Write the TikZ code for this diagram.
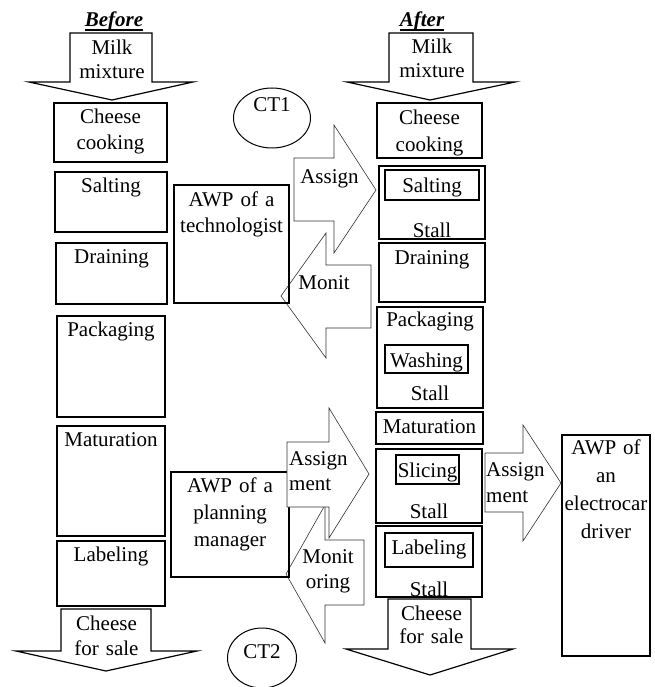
\documentclass[tikz,border=0pt]{standalone}
\usepackage{fontspec}
\setmainfont{Liberation Serif}
\usetikzlibrary{positioning, fit, shapes.geometric}

\tikzset{
  box/.style={draw, line width=1.5pt, inner sep=0pt},
  txt/.style={inner sep=0pt, align=center, text width=130pt, font=\fontsize{21}{26}\selectfont},
  head/.style={inner sep=0pt, anchor=base, font=\fontsize{21}{26}\selectfont\bfseries\itshape},
  flow/.style={draw, fill=white, line width=1.2pt},
  link/.style={draw=black!80, fill=white, line width=0.6pt},
  ct/.style={draw, ellipse, line width=1pt, inner sep=0pt}
}

\begin{document}
\begin{tikzpicture}[x=1pt, y=-1pt]
\useasboundingbox (0,0) rectangle (654,687);

% Headings
\node[head] (before) at (114,27) {Before};
\draw[line width=1.2pt] ([yshift=-3pt]before.base west) -- ([yshift=-3pt]before.base east);
\node[head] (after) at (422,27) {After};
\draw[line width=1.2pt] ([yshift=-3pt]after.base west) -- ([yshift=-3pt]after.base east);

% Monitoring arrows
\draw[link] (371,265) -- (326,265) -- (326,233) -- (281,296) -- (326,358) -- (326,328) -- (371,328) -- cycle;
\node[txt, anchor=base] (monit1) at (324,289) {Monit};
\draw[link] (364,540) -- (325,540) -- (325,505) -- (286,574) -- (325,643) -- (325,605) -- (364,605) -- cycle;
\node[txt, anchor=base, font=\fontsize{21}{25}\selectfont] (monit2) at (328,563) {Monit\\oring};

% Before: stages
\foreach \n/\t/\xa/\xb/\ya/\yb in {cookL/{Cheese\\cooking}/54/167/103/162, saltL/Salting/55/167/172/232,
    drainL/Draining/56/167/243/304, packL/Packaging/57/165/316/417, matL/Maturation/57/165/426/536,
    labL/Labeling/57/165/541/606}
{
  \node[box, fit={(\xa,\ya) (\xb,\yb)}] (\n) {};
  \node[txt, anchor=base] (\n-t) at ([yshift=-21.5pt]\n.north) {\t};
}

% Workplaces
\node[box, fit={(174,185) (289,303)}] (awpTech) {};
\node[txt, anchor=base] (awpTech-t) at ([yshift=-22pt]awpTech.north) {AWP of a\\technologist};
\node[box, fit={(171,472) (289,577)}] (awpPlan) {};
\node[txt, anchor=base, font=\fontsize{21}{27}\selectfont] (awpPlan-t) at ([yshift=-21pt]awpPlan.north) {AWP of a\\planning\\manager};
\node[box, fit={(562,435) (650,656)}] (awpCar) {};
\node[txt, anchor=base, font=\fontsize{21}{28}\selectfont] (awpCar-t) at ([yshift=-20pt]awpCar.north) {AWP of\\an\\electrocar\\driver};

% Control points
\node[ct, minimum width=77pt, minimum height=60pt] (ct1) at (272,118) {};
\node[txt, anchor=base] (ct1-t) at ([yshift=6pt]ct1.center) {CT1};
\node[ct, minimum width=69pt, minimum height=60pt] (ct2) at (262,658) {};
\node[txt, anchor=base] (ct2-t) at (ct2.center) {CT2};

% After: stages
\node[box, fit={(377,103) (482,158)}] (cookR) {};
\node[txt, anchor=base, font=\fontsize{21}{27}\selectfont] (cookR-t) at ([yshift=-22pt]cookR.north) {Cheese\\cooking};
\node[box, fit={(379,166) (485,239)}] (saltR) {};
\node[box, fit={(385,170) (479,200)}] (saltIn) {};
\node[txt, anchor=base] (saltIn-t) at ([yshift=-7pt]saltIn.center) {Salting};
\node[txt, anchor=base] (saltR-s) at ([yshift=2.5pt]saltR.south) {Stall};
\node[box, fit={(379,243) (485,302)}] (drainR) {};
\node[txt, anchor=base] (drainR-t) at ([yshift=-22pt]drainR.north) {Draining};
\node[box, fit={(377,307) (483,408)}] (packR) {};
\node[txt, anchor=base] (packR-t) at ([yshift=-20pt]packR.north) {Packaging};
\node[box, fit={(385,345) (468,373)}] (washIn) {};
\node[txt, anchor=base] (washIn-t) at ([yshift=-8pt]washIn.center) {Washing};
\node[txt, anchor=base] (packR-s) at ([yshift=8pt]packR.south) {Stall};
\node[box, fit={(376,412) (483,444)}] (matR) {};
\node[txt, anchor=base] (matR-t) at ([yshift=-5pt]matR.center) {Maturation};
\node[box, fit={(376,449) (482,523)}] (sliceR) {};
\node[box, fit={(396,455) (459,484)}] (sliceIn) {};
\node[txt, anchor=base] (sliceIn-t) at ([yshift=-7.5pt]sliceIn.center) {Slicing};
\node[txt, anchor=base] (sliceR-s) at ([yshift=5pt]sliceR.south) {Stall};
\node[box, fit={(376,526) (482,597)}] (labR) {};
\node[box, fit={(385,533) (473,567)}] (labIn) {};
\node[txt, anchor=base] (labIn-t) at ([yshift=-4pt]labIn.center) {Labeling};
\node[txt, anchor=base] (labR-s) at ([yshift=1pt]labR.south) {Stall};

% Input and output arrows
\draw[flow] (70,33) -- (152,33) -- (152,82) -- (193,82) -- (112,100) -- (29,82) -- (70,82) -- cycle;
\node[txt, anchor=base, font=\fontsize{21}{24}\selectfont] (milkL) at (112,55) {Milk\\mixture};
\draw[flow] (389,33) -- (473,33) -- (473,82) -- (515,82) -- (430,100) -- (347,82) -- (389,82) -- cycle;
\node[txt, anchor=base, font=\fontsize{21}{24}\selectfont] (milkR) at (432,54) {Milk\\mixture};
\draw[flow] (61,609) -- (151,609) -- (151,651) -- (197,651) -- (106,671) -- (16,651) -- (61,651) -- cycle;
\node[txt, anchor=base, font=\fontsize{21}{25}\selectfont] (saleL) at (106.5,630) {Cheese\\for sale};
\draw[flow] (388,599) -- (471,599) -- (471,649) -- (513,649) -- (430,675) -- (346,649) -- (388,649) -- cycle;
\node[txt, anchor=base, font=\fontsize{21}{23}\selectfont] (saleR) at (431.5,620) {Cheese\\for sale};

% Assignment arrows
\draw[link] (294,158) -- (334,158) -- (334,125) -- (376,190) -- (334,253) -- (334,221) -- (294,221) -- cycle;
\node[txt, anchor=base] (assign1) at (329.5,183) {Assign};
\draw[link] (287,442) -- (329,442) -- (329,408) -- (369,474) -- (329,538) -- (329,507) -- (287,507) -- cycle;
\node[txt, anchor=base west, align=left, text width=60pt, font=\fontsize{21}{25}\selectfont] (assign2) at (289,465) {Assign\\ment};
\draw[link] (485,453) -- (523,453) -- (523,425) -- (561,483) -- (523,541) -- (523,512) -- (485,512) -- cycle;
\node[txt, anchor=base west, align=left, text width=60pt] (assign3) at (486,476) {Assign\\ment};
\end{tikzpicture}
\end{document}
